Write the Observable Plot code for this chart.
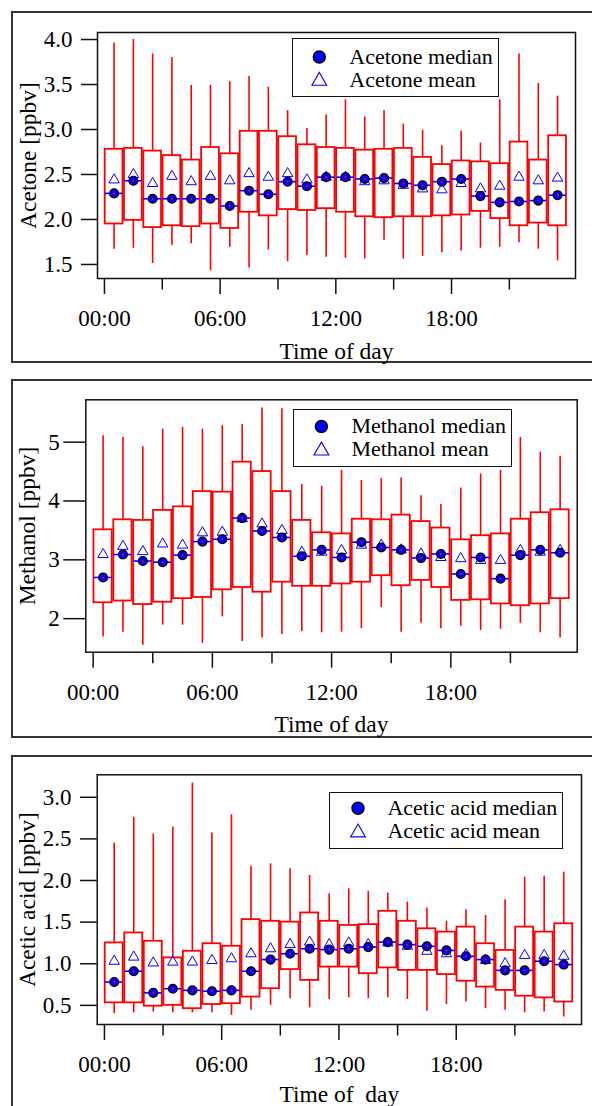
<!DOCTYPE html>
<html><head><meta charset="utf-8">
<script src="https://cdn.jsdelivr.net/npm/d3@7"></script>
<script src="https://cdn.jsdelivr.net/npm/@observablehq/plot@0.6"></script>
<style>
body{margin:0;background:#fff;}
#root{position:relative;width:592px;height:1106px;overflow:hidden;font-family:"Liberation Serif","Times New Roman",serif;background:#fff;}
.outer{position:absolute;border:2px solid #333;box-sizing:border-box;}
.panel{position:absolute;left:0;}
.panel svg{display:block;}
.legend{position:absolute;border:1.5px solid #111;background:#fff;box-sizing:border-box;}
.legend svg{position:absolute;left:-1.5px;top:-1.5px;overflow:visible;}
</style>
</head><body>
<div id="root"></div>
<script>
const hours = [0,1,2,3,4,5,6,7,8,9,10,11,12,13,14,15,16,17,18,19,20,21,22,23];
const xTickLabels = ["00:00","06:00","12:00","18:00"];
const xMajorTicks = [0,6,12,18];
const xMinorTicks = [3,9,15,21];

// Acetone [ppbv]
const acetoneMax    = [3.96,4.00,3.84,3.80,3.49,3.49,3.53,3.59,3.47,3.21,3.01,3.16,3.33,3.14,3.21,3.06,2.99,2.82,2.98,2.85,3.33,3.84,3.51,3.37];
const acetoneQ3     = [2.78,2.79,2.76,2.71,2.66,2.80,2.73,2.98,2.98,2.92,2.83,2.80,2.79,2.77,2.78,2.79,2.69,2.61,2.65,2.64,2.62,2.86,2.66,2.93];
const acetoneQ1     = [1.95,1.99,1.91,1.93,1.92,1.95,1.90,2.08,2.04,2.11,2.10,2.12,2.08,2.03,2.02,2.03,2.03,2.04,2.05,2.09,2.01,1.93,1.96,1.93];
const acetoneMin    = [1.67,1.68,1.51,1.71,1.73,1.43,1.69,1.46,1.66,1.53,1.60,1.58,1.57,1.56,1.77,1.56,1.59,1.63,1.65,1.68,1.69,1.74,1.67,1.54];
const acetoneMedian = [2.29,2.43,2.23,2.23,2.23,2.23,2.15,2.32,2.28,2.42,2.37,2.47,2.47,2.45,2.46,2.40,2.38,2.42,2.45,2.26,2.19,2.20,2.21,2.27];
const acetoneMean   = [2.44,2.50,2.40,2.48,2.42,2.48,2.43,2.51,2.47,2.51,2.44,2.47,2.47,2.42,2.43,2.38,2.34,2.33,2.40,2.34,2.37,2.47,2.43,2.46];
const acetoneTicks  = [1.5,2.0,2.5,3.0,3.5,4.0];

// Methanol [ppbv]
const methanolMax    = [5.11,5.08,4.92,5.22,5.25,5.22,5.28,5.30,5.58,5.57,4.28,4.25,4.52,4.35,4.38,4.39,4.09,3.94,4.22,4.46,4.52,5.08,4.83,4.76];
const methanolQ3     = [3.51,3.68,3.67,3.84,3.90,4.16,4.15,4.66,4.50,4.16,3.67,3.46,3.44,3.69,3.68,3.76,3.65,3.54,3.34,3.41,3.44,3.69,3.80,3.85];
const methanolQ1     = [2.27,2.30,2.24,2.28,2.34,2.36,2.49,2.53,2.45,2.62,2.55,2.55,2.59,2.62,2.73,2.56,2.65,2.53,2.31,2.32,2.25,2.22,2.25,2.34];
const methanolMin    = [1.69,1.77,1.55,1.89,1.89,1.58,2.03,1.61,1.67,1.73,1.78,1.76,1.77,1.83,2.19,1.77,1.92,1.83,1.87,1.80,1.82,1.92,1.76,1.67];
const methanolMedian = [2.70,3.09,2.98,2.96,3.08,3.31,3.35,3.71,3.49,3.38,3.06,3.17,3.04,3.30,3.21,3.17,3.03,3.10,2.76,3.04,2.68,3.08,3.17,3.12];
const methanolMean   = [3.09,3.23,3.14,3.27,3.25,3.46,3.47,3.70,3.61,3.50,3.13,3.13,3.16,3.25,3.25,3.17,3.10,3.04,3.02,2.99,2.99,3.16,3.13,3.16];
const methanolTicks  = [2,3,4,5];

// Acetic acid [ppbv]
const aceticMax    = [2.45,2.76,2.56,2.64,3.17,2.57,2.79,2.17,2.20,2.14,2.06,1.84,1.90,1.87,1.85,1.74,1.67,1.51,1.65,1.58,1.77,2.04,2.05,2.10];
const aceticQ3     = [1.25,1.37,1.27,1.07,1.15,1.24,1.21,1.53,1.51,1.50,1.61,1.51,1.46,1.47,1.63,1.51,1.42,1.38,1.44,1.24,1.16,1.44,1.38,1.48];
const aceticQ1     = [0.53,0.53,0.49,0.50,0.46,0.51,0.52,0.60,0.70,0.93,0.80,0.96,0.96,0.88,0.95,0.92,0.92,0.87,0.79,0.72,0.68,0.61,0.59,0.54];
const aceticMin    = [0.40,0.41,0.42,0.41,0.41,0.41,0.38,0.44,0.50,0.58,0.47,0.57,0.59,0.58,0.59,0.57,0.43,0.51,0.54,0.46,0.44,0.41,0.42,0.36];
const aceticMedian = [0.78,0.91,0.65,0.70,0.68,0.67,0.68,0.91,1.05,1.12,1.18,1.17,1.18,1.20,1.26,1.23,1.21,1.16,1.09,1.05,0.92,0.92,1.03,0.99];
const aceticMean   = [1.03,1.08,1.01,1.02,1.02,1.04,1.06,1.12,1.18,1.23,1.26,1.23,1.25,1.23,1.25,1.21,1.15,1.12,1.11,1.04,1.00,1.10,1.10,1.09];
const aceticTicks  = [0.5,1.0,1.5,2.0,2.5,3.0];

const RED = "#ff0000", BLUE = "#0000ff";
const FONT = "'Liberation Serif','Times New Roman',serif";

function rows(max, q3, q1, min, med, mean) {
  return hours.map((h, i) => ({h, max: max[i], q3: q3[i], q1: q1[i], min: min[i], med: med[i], mean: mean[i]}));
}

function panel(o) {
  const data = o.data;
  const timeFmt = d => xTickLabels[xMajorTicks.indexOf(d)];
  const svg = Plot.plot({
    width: 592, height: o.height,
    marginLeft: o.ml, marginRight: o.mr, marginTop: o.mt, marginBottom: o.mb,
    x: {domain: o.xd},
    y: {domain: o.yd},
    style: {fontFamily: FONT, fontSize: "23px", color: "#000", background: "transparent", overflow: "visible"},
    marks: [
      Plot.ruleX(data, {x: d => d.h + 0.5, y1: "q3", y2: "max", stroke: RED, strokeWidth: 1.6}),
      Plot.ruleX(data, {x: d => d.h + 0.5, y1: "min", y2: "q1", stroke: RED, strokeWidth: 1.6}),
      Plot.rect(data, {x1: d => d.h + 0.04, x2: d => d.h + 0.96, y1: "q1", y2: "q3", stroke: RED, fill: "none", strokeWidth: 1.8}),
      Plot.ruleY(data, {y: "med", x1: d => d.h + 0.04, x2: d => d.h + 0.96, stroke: BLUE, strokeWidth: 1.6}),
      Plot.dot(data, {x: d => d.h + 0.5, y: "mean", symbol: "triangle", r: 3.9, stroke: BLUE, fill: "none", strokeWidth: 1}),
      Plot.dot(data, {x: d => d.h + 0.5, y: "med", r: 4.4, fill: BLUE, stroke: "#000", strokeWidth: 1.3}),
      Plot.dot(data, {x: d => d.h + 0.5, y: "med", r: 1.1, fill: RED, stroke: "none"}),
      Plot.frame({stroke: "#111", strokeWidth: 1.5}),
      Plot.axisX({ticks: xMajorTicks, tickSize: 16, tickPadding: 15, tickFormat: timeFmt, label: null, strokeWidth: 1.5, stroke: "#111", fill: "#000"}),
      Plot.axisX({ticks: xMinorTicks, tickSize: 11.5, tickFormat: () => "", label: null, strokeWidth: 1.5, stroke: "#111"}),
      Plot.axisY({ticks: o.yTicks, tickSize: o.yts, tickPadding: o.ytp, tickFormat: o.yFmt, label: null, strokeWidth: 1.5, stroke: "#111", fill: "#000"}),
      Plot.text([o.ylabel], {text: d => d, frameAnchor: "left", rotate: -90, dx: o.ylDx, textAnchor: "middle", lineAnchor: "middle", fontSize: 23.5, fill: "#000"}),
      Plot.text([o.xlabel], {text: d => d, frameAnchor: "bottom", dy: o.xlDy, textAnchor: "middle", lineAnchor: "middle", fontSize: 23.5, fill: "#000"})
    ]
  });
  const wrap = document.createElement("div");
  wrap.className = "panel";
  wrap.style.top = o.top + "px";
  wrap.appendChild(svg);
  return wrap;
}

function outer(top, height) {
  const d = document.createElement("div");
  d.className = "outer";
  d.style.left = "11px"; d.style.top = top + "px";
  d.style.width = "600px"; d.style.height = height + "px";
  return d;
}

function legend(o) {
  const d = document.createElement("div");
  d.className = "legend";
  Object.assign(d.style, {left: o.left + "px", top: o.top + "px", width: o.w + "px", height: o.h + "px"});
  const s = d3.create("svg").attr("width", o.w).attr("height", o.h)
    .style("font-family", FONT).style("font-size", "22px");
  const sx = o.sx, tx = o.tx;
  s.append("circle").attr("cx", sx).attr("cy", o.y1).attr("r", 6).attr("fill", BLUE).attr("stroke", "#000").attr("stroke-width", 1.4);
  s.append("path").attr("d", d3.symbol(d3.symbolTriangle, 95)()).attr("transform", `translate(${sx},${o.y2 + 1})`)
    .attr("fill", "none").attr("stroke", BLUE).attr("stroke-width", 1.1);
  s.append("text").attr("x", tx).attr("y", o.y1 + 6.5).attr("fill", "#000").text(o.labels[0]);
  s.append("text").attr("x", tx).attr("y", o.y2 + 6.5).attr("fill", "#000").text(o.labels[1]);
  d.appendChild(s.node());
  return d;
}

const root = document.getElementById("root");

root.appendChild(outer(11, 352));
root.appendChild(outer(379, 359));
root.appendChild(outer(754.7, 400));

root.appendChild(panel({
  top: 0, height: 365, ml: 97, mr: 17, mt: 32, mb: 87,
  xd: [-0.36, 24.43], yd: [1.344, 4.078], yTicks: acetoneTicks, yFmt: d3.format(".1f"), yts: 16, ytp: 9,
  ylabel: "Acetone [ppbv]", ylDx: -69, xlabel: "Time of day", xlDy: 72.6,
  data: rows(acetoneMax, acetoneQ3, acetoneQ1, acetoneMin, acetoneMedian, acetoneMean)
}));
root.appendChild(panel({
  top: 365, height: 375, ml: 85.3, mr: 15.3, mt: 34.3, mb: 88.3,
  xd: [-0.37, 24.36], yd: [1.43, 5.72], yTicks: methanolTicks, yFmt: d3.format("d"), yts: 22, ytp: 4,
  ylabel: "Methanol [ppbv]", ylDx: -58.6, xlabel: "Time of day", xlDy: 71.9,
  data: rows(methanolMax, methanolQ3, methanolQ1, methanolMin, methanolMedian, methanolMean)
}));
root.appendChild(panel({
  top: 740, height: 366, ml: 96.7, mr: 11, mt: 34.3, mb: 82,
  xd: [-0.37, 24.41], yd: [0.27, 3.27], yTicks: aceticTicks, yFmt: d3.format(".1f"), yts: 16.7, ytp: 9,
  ylabel: "Acetic acid [ppbv]", ylDx: -70, xlabel: "Time of\u00a0 day", xlDy: 69.5,
  data: rows(aceticMax, aceticQ3, aceticQ1, aceticMin, aceticMedian, aceticMean)
}));

root.appendChild(legend({left: 291.7, top: 38, w: 207.3, h: 59, sx: 28.3, tx: 58.3, y1: 19, y2: 42, labels: ["Acetone median", "Acetone mean"]}));
root.appendChild(legend({left: 293.3, top: 409.3, w: 218.4, h: 57.4, sx: 28.4, tx: 58.4, y1: 17.4, y2: 40.7, labels: ["Methanol median", "Methanol mean"]}));
root.appendChild(legend({left: 329.3, top: 791.7, w: 234, h: 57.3, sx: 29, tx: 58.4, y1: 17.3, y2: 40.6, labels: ["Acetic acid median", "Acetic acid mean"]}));
</script>
</body></html>
